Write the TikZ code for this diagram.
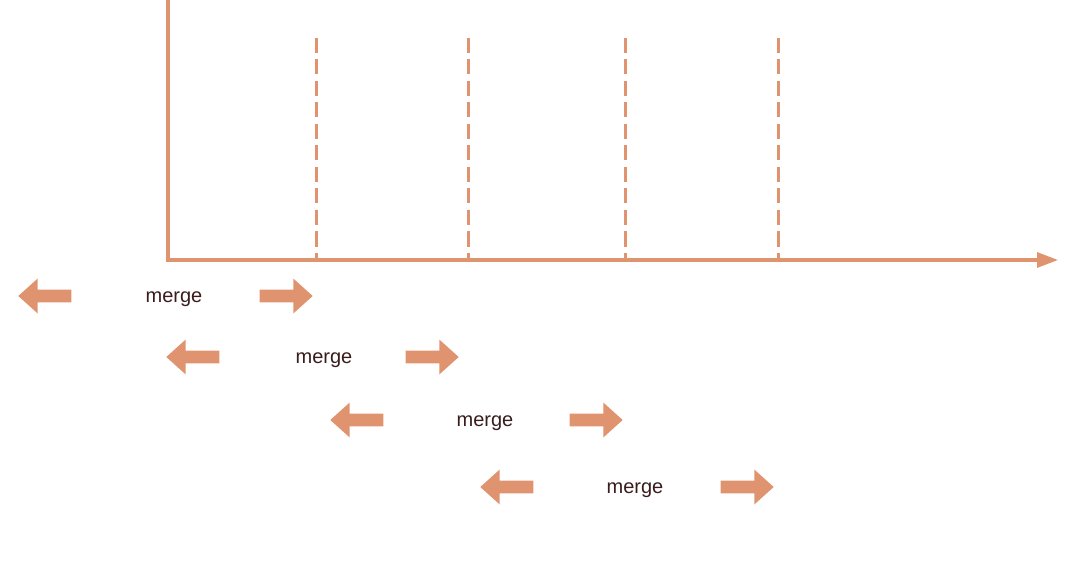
\documentclass[tikz,border=0pt]{standalone}
\usepackage{fontspec}
\setmainfont{Liberation Sans}
\usepackage{tikz}
\usetikzlibrary{arrows.meta}
\usetikzlibrary{shapes.arrows}
\definecolor{axiscol}{HTML}{E0936F}
\definecolor{textcol}{HTML}{3A1C1C}
\tikzset{
	axisline/.style={draw=axiscol, line width=3.2pt},
	splitline/.style={draw=axiscol, line width=3pt, dash pattern=on 15pt off 6.5pt},
	blockarrow/.style={single arrow, fill=axiscol, draw=none, inner xsep=0pt, inner ysep=6.2pt,
		minimum height=53pt, minimum width=35pt, single arrow tip angle=84, single arrow head extend=11pt},
	mergelabel/.style={text=textcol, font=\fontsize{20}{24}\selectfont, anchor=base}
}
\begin{document}
\begin{tikzpicture}[x=1pt, y=-1pt]
	\useasboundingbox (0,0) rectangle (1080,575);
	% axes
	\coordinate (top) at (168,0);
	\coordinate (origin) at (168,260);
	\coordinate (end) at (1058,260);
	\draw[axisline, -{Triangle[length=21pt,width=15pt]}] (top) -- (origin) -- (end);
	% split points
	\foreach \x/\n in {316/1,468/2,625/3,778/4}{
		\coordinate (s\n) at (\x,38);
		\coordinate (b\n) at (\x,258);
		\draw[splitline] (s\n) -- (b\n);
	}
	% merge rows
	\foreach \y/\l/\t/\r/\n in {296/18/174/313/1, 357/166/324/459/2, 420/330/485/623/3, 487/480/635/774/4}{
		\node[blockarrow, shape border rotate=180, anchor=tip] (left\n) at (\l,\y) {};
		\node[mergelabel] (merge\n) at (\t,\y+6) {merge};
		\node[blockarrow, anchor=tip] (right\n) at (\r,\y) {};
	}
\end{tikzpicture}
\end{document}
